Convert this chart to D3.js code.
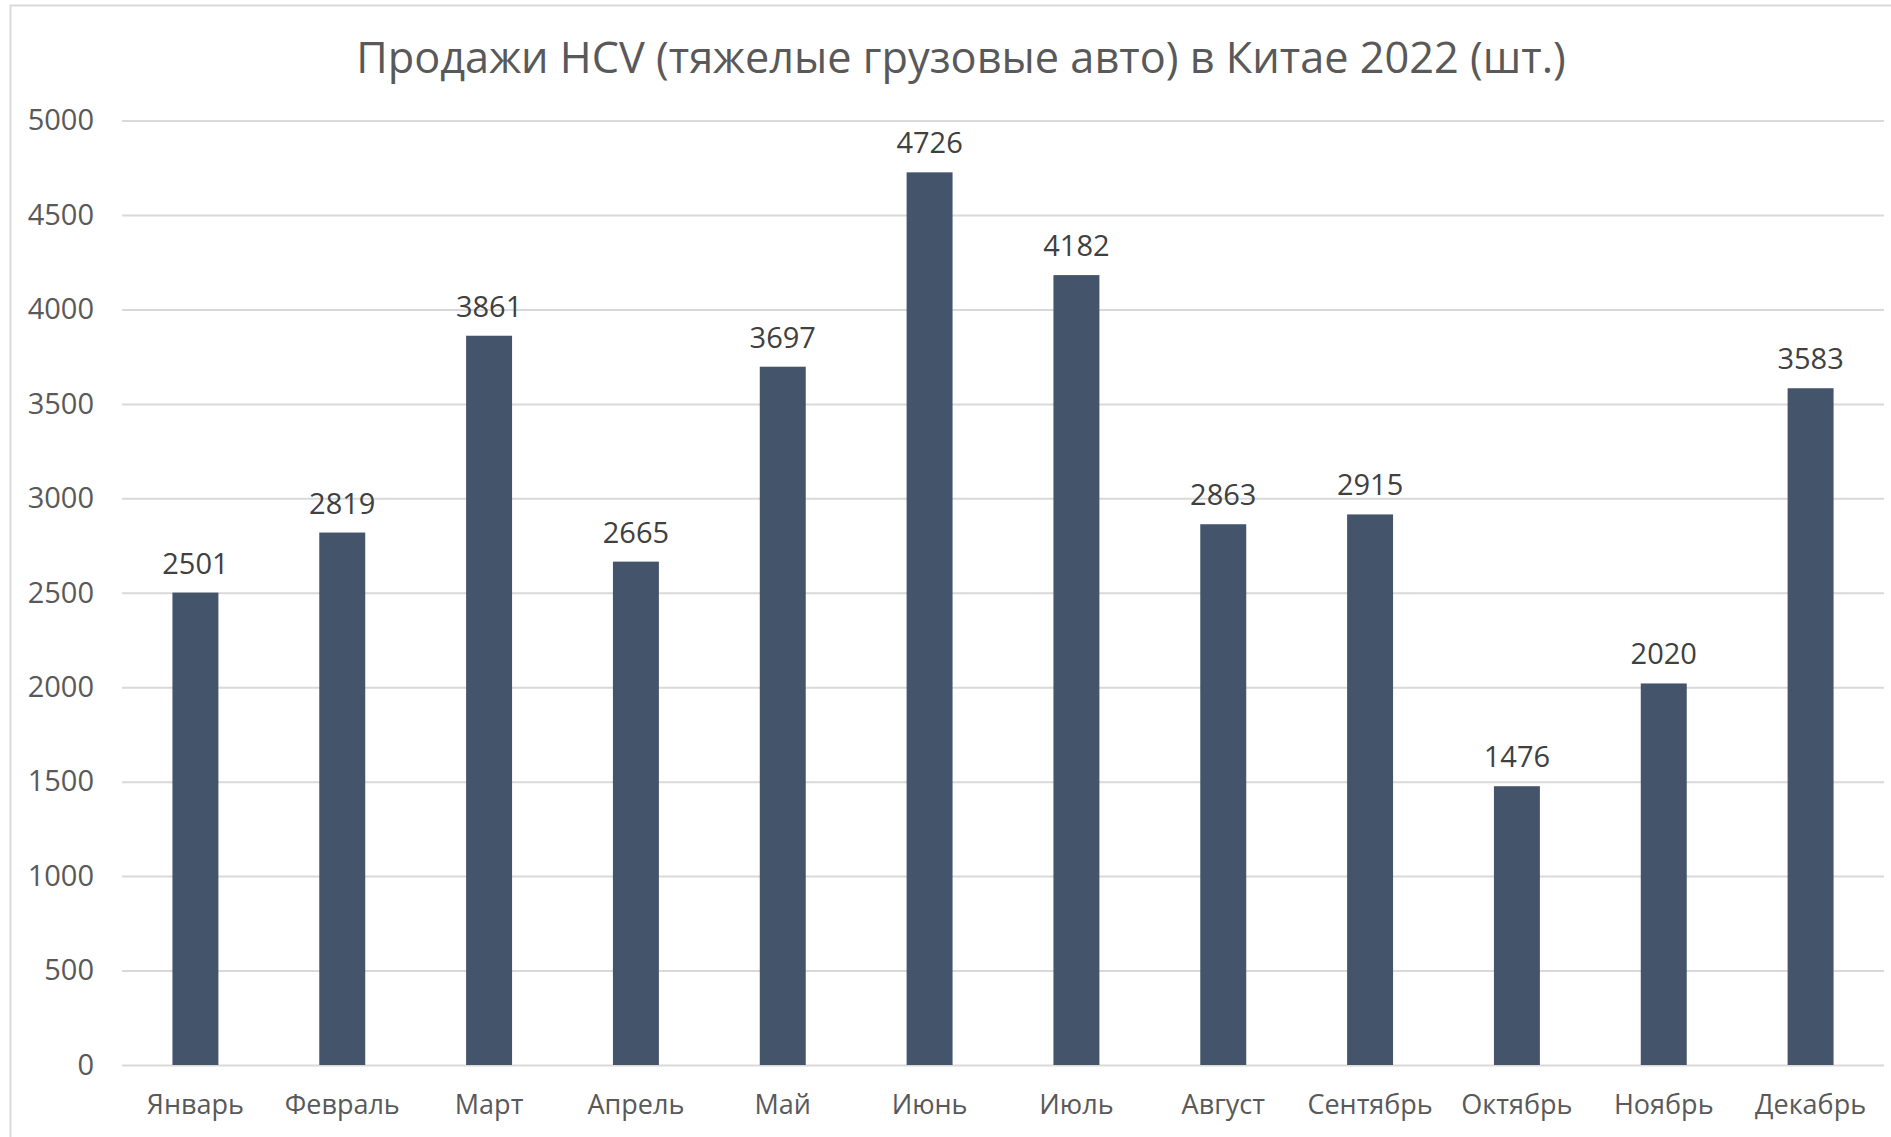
<!DOCTYPE html>
<html>
<head>
<meta charset="utf-8">
<script src="https://cdn.jsdelivr.net/npm/d3@7"></script>
<style>
  body { margin: 0; background: #fff; }
  svg { display: block; font-family: "Open Sans", sans-serif; }
</style>
</head>
<body>
<svg></svg>
<script>
let months = ["Январь", "Февраль", "Март", "Апрель", "Май", "Июнь", "Июль", "Август", "Сентябрь", "Октябрь", "Ноябрь", "Декабрь"];
let sales = [2501, 2819, 3861, 2665, 3697, 4726, 4182, 2863, 2915, 1476, 2020, 3583];
let yTicks = [0, 500, 1000, 1500, 2000, 2500, 3000, 3500, 4000, 4500, 5000];
let title = "Продажи HCV (тяжелые грузовые авто) в Китае 2022 (шт.)";

let width = 1891;
let height = 1137;
let plotLeft = 122, plotRight = 1884, plotTop = 120.6, plotBottom = 1065;

let svg = d3.select("svg").attr("width", width).attr("height", height);

// chart frame (only top/left edges are visible in the picture)
svg.append("rect")
   .attr("x", 10.5).attr("y", 5.5)
   .attr("width", 1900).attr("height", 1200)
   .attr("fill", "none").attr("stroke", "#d9d9d9").attr("stroke-width", 2)

svg.append("text")
   .attr("x", 961).attr("y", 73)
   .attr("text-anchor", "middle")
   .attr("fill", "#595959")
   .style("font-size", "43.3px")
   .text(title)

let xScale = d3.scaleBand().domain(months).range([plotLeft, plotRight]).paddingInner(0.687).paddingOuter(0.3435);
let yScale = d3.scaleLinear().domain([0, 5000]).range([plotBottom, plotTop]);

// gridlines + y labels
let yAxis = d3.axisLeft(yScale).tickValues(yTicks).tickFormat(d3.format("d")).tickSize(-(plotRight - plotLeft)).tickPadding(28);
let gy = svg.append("g").attr("transform", "translate(" + plotLeft + ",0)").call(yAxis);
gy.select(".domain").remove();
gy.selectAll(".tick line").attr("stroke", "#d9d9d9").attr("stroke-width", 2);
gy.selectAll(".tick text").attr("fill", "#595959").style("font-size", "29px").style("font-family", "Open Sans");

// x labels
let xAxis = d3.axisBottom(xScale).tickSize(0).tickPadding(30);
let gx = svg.append("g").attr("transform", "translate(0," + plotBottom + ")").call(xAxis);
gx.select(".domain").remove();
gx.selectAll(".tick text").attr("fill", "#595959").style("font-size", "27px").style("font-family", "Open Sans");

// bars
svg.selectAll("rect.bar")
   .data(sales)
   .enter()
   .append("rect")
   .attr("class", "bar")
   .attr("x", (d, i) => xScale(months[i]))
   .attr("width", xScale.bandwidth())
   .attr("y", d => yScale(d))
   .attr("height", d => plotBottom - yScale(d))
   .attr("fill", "#44546a")

// value labels
svg.selectAll("text.val")
   .data(sales)
   .enter()
   .append("text")
   .attr("class", "val")
   .attr("x", (d, i) => xScale(months[i]) + xScale.bandwidth() / 2)
   .attr("y", d => yScale(d) - 19)
   .attr("text-anchor", "middle")
   .attr("fill", "#404040")
   .style("font-size", "29px")
   .text(d => d)
</script>
</body>
</html>
